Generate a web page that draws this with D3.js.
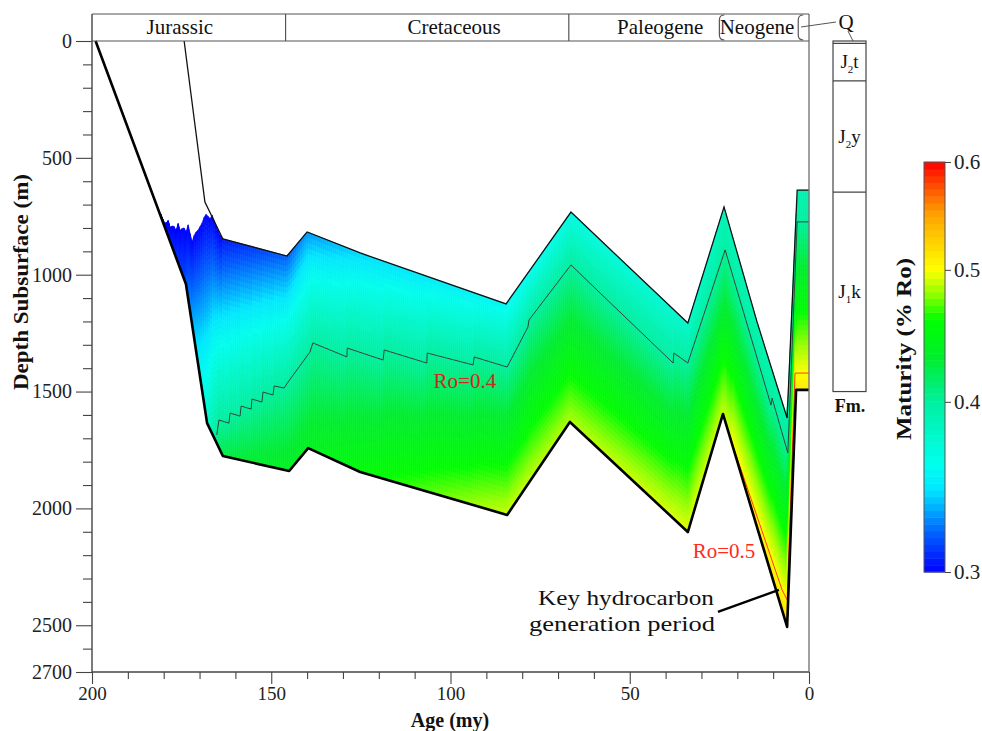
<!DOCTYPE html>
<html><head><meta charset="utf-8">
<script src="https://cdn.jsdelivr.net/npm/d3@7"></script>
<style>
body{margin:0;background:#fff}
svg{display:block}
text{font-family:"Liberation Serif","Times New Roman",serif}
</style>
</head><body>
<svg id="chart" width="982" height="731"></svg>
<script>
// ---------- DATA ----------
// Base of J1k (thick line), age in Ma, depth in m
const baseAges   = [199, 173.8, 167.9, 163.5, 145.0, 139.7, 125.2, 84.2, 66.7, 33.8, 24.0, 14.5, 6.1, 3.6, 0];
const baseDepths = [0, 1040, 1635, 1776, 1840, 1742, 1844, 2028, 1630, 2101, 1596, 2080, 2507, 1493, 1493];
// Top of J1k (thin line)
const topAges   = [174.3, 168.5, 163.5, 145.6, 140.0, 125.2, 84.5, 66.4, 33.8, 23.7, 14.5, 6.1, 3.3, 0];
const topDepths = [0, 689, 847, 920, 817, 907, 1125, 732, 1207, 710, 1202, 1613, 638, 638];
// Ro = 0.3 limit of colouring (jagged edge, upper left)
const ro03Ages   = [181.0, 179.6, 178.8, 178.0, 177.4, 176.6, 176.0, 175.2, 174.6, 173.8, 173.3, 172.1, 171.3, 170.4, 169.3, 168.7, 167.9, 167.3, 166.5, 165.7, 164.3, 163.5];
const ro03Depths = [736, 787, 766, 809, 779, 817, 779, 822, 787, 822, 779, 860, 822, 809, 779, 753, 736, 766, 745, 779, 830, 847];
// Ro = 0.4 iso-line
const ro04Ages   = [165.2, 164.6, 161.8, 161.5, 158.7, 158.4, 155.6, 155.4, 152.6, 152.3, 149.5, 149.2, 146.4, 145.3, 139.2, 138.4, 133.6, 128.9, 128.8, 118.8, 118.5, 106.6, 106.5, 93.7, 93.4, 84.2, 78.4, 78.1, 66.4, 58.3, 37.9, 37.7, 33.8, 23.4, 10.6, 10.3, 5.9, 3.3, 0];
const ro04Depths = [1686, 1622, 1635, 1592, 1605, 1562, 1575, 1532, 1545, 1502, 1515, 1476, 1485, 1459, 1331, 1292, 1322, 1352, 1314, 1365, 1322, 1378, 1335, 1386, 1352, 1395, 1224, 1194, 958, 1078, 1378, 1335, 1378, 894, 1558, 1528, 1763, 774, 774];
// Ro = 0.5 iso-line
const ro05Ages   = [21.2, 7.5, 6.1, 3.9, 0];
const ro05Depths = [1733, 2349, 2392, 1421, 1421];
// Maturity at top and base of the unit through time
const roAges = [181, 174, 168, 163.5, 145, 140, 125, 84, 66.5, 34, 24, 14.5, 6, 3.5, 0];
const roTop  = [0.30, 0.30, 0.30, 0.305, 0.32, 0.33, 0.342, 0.355, 0.365, 0.375, 0.385, 0.39, 0.395, 0.39, 0.39];
const roBase = [0.30, 0.315, 0.375, 0.425, 0.44, 0.44, 0.455, 0.49, 0.485, 0.495, 0.49, 0.51, 0.52, 0.51, 0.51];
// Colour scale
const colorValues = [0.300, 0.320, 0.345, 0.360, 0.400, 0.430, 0.460, 0.480, 0.500, 0.550, 0.600];
const colorHex    = ["#0000ff", "#0060ff", "#00e8ff", "#00ffee", "#00f0a0", "#00ee30", "#00ff00", "#90ff00", "#ffff00", "#ffa000", "#ff0000"];
const roTicks = [0.3, 0.4, 0.5, 0.6];
// Axes
const depthMajor = [0, 500, 1000, 1500, 2000, 2500, 2700];
const depthMinor = [100, 200, 300, 400, 600, 700, 800, 900, 1100, 1200, 1300, 1400, 1600, 1700, 1800, 1900, 2100, 2200, 2300, 2400, 2600];
const ageMajor = [200, 150, 100, 50, 0];
const ageMinor = [190, 180, 170, 160, 140, 130, 120, 110, 90, 80, 70, 60, 40, 30, 20, 10];
// Geologic periods
const periodNames = ["Jurassic", "Cretaceous", "Paleogene", "Neogene"];
const periodBounds = [200, 146, 67, 25, 3, 0];
const periodLabelAges = [175.5, 99, 41.5, 14.5];
// Formations
const fmMain = ["J", "J", "J"];
const fmSub = ["2", "2", "1"];
const fmTail = ["t", "y", "k"];
const fmTops = [10, 171, 647];
const fmBottom = 1500;

// ---------- SCALES ----------
const svg = d3.select("#chart");
const x = d3.scaleLinear().domain([200, 0]).range([92, 809]);
const y = d3.scaleLinear().domain([0, 2700]).range([41, 672]);
const roY = d3.scaleLog().domain([0.3, 0.6]).range([572, 162]);
const color = d3.scaleLinear().domain(colorValues).range(colorHex).clamp(true);

const interp = (A, V) => d3.scaleLinear().domain(A).range(V);
const topF = interp(topAges, topDepths);
const baseF = interp(baseAges, baseDepths);
const iso03F = interp(ro03Ages, ro03Depths);
const ro04F = interp(ro04Ages, ro04Depths);
const ro05F = interp(ro05Ages, ro05Depths);
const roTopF = interp(roAges, roTop);
const roBaseF = interp(roAges, roBase);
const ageSplit = ro03Ages[ro03Ages.length - 1];
const colTop = a => a > ageSplit ? iso03F(a) : topF(a);

function profile(a) {
  const td = colTop(a), bd = baseF(a);
  let rt = a > ageSplit ? 0.3 : roTopF(a);
  let rb = roBaseF(a);
  const knots = [[td, rt]];
  let lastC = null;
  if (a <= ro04Ages[0]) { const d = ro04F(a); if (d > td && d < bd) { knots.push([d, 0.4]); lastC = 0.4; } }
  if (a <= ro05Ages[0]) { const d = ro05F(a); if (d > td && d < bd) { knots.push([d, 0.5]); lastC = 0.5; } }
  if (knots.length > 1) knots[0][1] = Math.min(rt, knots[1][1] - 0.005);
  if (lastC !== null) rb = Math.max(rb, lastC + 0.008);
  knots.push([bd, rb]);
  return d3.scaleLinear().domain(knots.map(k => k[0])).range(knots.map(k => k[1]));
}

// ---------- MATURITY FIELD ----------
const cells = [];
const nF = 40;
const xStart = x(ro03Ages[0]), xEnd = x(0);
for (let xa = xStart; xa < xEnd - 0.01; xa += 2) {
  const xb = Math.min(xa + 2, xEnd);
  const aA = x.invert(xa), aB = x.invert(xb), aM = x.invert((xa + xb) / 2);
  const tA = colTop(aA), bA = baseF(aA), tB = colTop(aB), bB = baseF(aB);
  const tM = colTop(aM), bM = baseF(aM);
  if (bM <= tM) continue;
  const prof = profile(aM);
  for (let j = 0; j < nF; j++) {
    const f0 = j / nF, f1 = (j + 1) / nF, fm = (j + 0.5) / nF;
    const pts = [
      [xa, y(tA + f0 * (bA - tA))], [xb, y(tB + f0 * (bB - tB))],
      [xb, y(tB + f1 * (bB - tB))], [xa, y(tA + f1 * (bA - tA))]
    ];
    cells.push({pts, c: color(prof(tM + fm * (bM - tM)))});
  }
}
const field = svg.append("g");
field.selectAll("path").data(cells).join("path")
  .attr("d", d => "M" + d.pts.map(p => p[0].toFixed(2) + "," + p[1].toFixed(2)).join("L") + "Z")
  .attr("fill", d => d.c).attr("stroke", d => d.c).attr("stroke-width", 0.6);

// ---------- LINES ----------
const line = d3.line().x(d => x(d[0])).y(d => y(d[1]));
const zip = (A, B) => A.map((a, i) => [a, B[i]]);
svg.append("path").attr("d", line(zip(ro04Ages, ro04Depths))).attr("fill", "none").attr("stroke", "#2e4a3c").attr("stroke-width", 1);
svg.append("path").attr("d", line(zip(ro05Ages, ro05Depths))).attr("fill", "none").attr("stroke", "#ff3a10").attr("stroke-width", 1);
svg.append("path").attr("d", line(zip(topAges, topDepths))).attr("fill", "none").attr("stroke", "#111").attr("stroke-width", 1.3);
svg.append("path").attr("d", line(zip(baseAges, baseDepths))).attr("fill", "none").attr("stroke", "#000").attr("stroke-width", 2.6).attr("stroke-linejoin", "round");

// ---------- AXES ----------
const axisColor = "#444";
const yAx = svg.append("g").attr("transform", "translate(92,0)")
  .call(d3.axisLeft(y).tickValues(depthMajor).tickSize(16).tickPadding(4).tickFormat(d3.format("d")));
yAx.select(".domain").remove();
svg.append("g").attr("transform", "translate(92,0)")
  .call(d3.axisLeft(y).tickValues(depthMinor).tickSize(9).tickFormat(""))
  .select(".domain").remove();
yAx.selectAll(".tick text").attr("font-size", 20);
const xAx = svg.append("g").attr("transform", "translate(0,672)")
  .call(d3.axisBottom(x).tickValues(ageMajor).tickSize(12).tickPadding(3).tickFormat(d3.format("d")));
xAx.select(".domain").remove();
svg.append("g").attr("transform", "translate(0,672)")
  .call(d3.axisBottom(x).tickValues(ageMinor).tickSize(7).tickFormat(""))
  .select(".domain").remove();
svg.selectAll(".tick line").attr("stroke", axisColor).attr("stroke-width", 1.1);
svg.selectAll(".tick text").attr("font-family", "Liberation Serif").attr("fill", "#222");
yAx.selectAll(".tick text").attr("font-size", 20);
xAx.selectAll(".tick text").attr("font-size", 19);

// frame
svg.append("line").attr("x1", 92).attr("x2", 92).attr("y1", 14).attr("y2", 672).attr("stroke", axisColor).attr("stroke-width", 1.4);
svg.append("line").attr("x1", 809).attr("x2", 809).attr("y1", 14).attr("y2", 672).attr("stroke", "#777").attr("stroke-width", 1.4);
svg.append("line").attr("x1", 92).attr("x2", 809).attr("y1", 672).attr("y2", 672).attr("stroke", axisColor).attr("stroke-width", 1.4);

// axis titles
svg.append("text").attr("transform", "translate(28,282) rotate(-90)").attr("text-anchor", "middle")
  .attr("font-size", 21).attr("font-weight", "bold").attr("fill", "#111")
  .attr("textLength", 216).attr("lengthAdjust", "spacingAndGlyphs").text("Depth Subsurface (m)");
svg.append("text").attr("x", 450).attr("y", 726.5).attr("text-anchor", "middle")
  .attr("font-size", 20).attr("font-weight", "bold").attr("fill", "#111").text("Age (my)");

// ---------- PERIOD HEADER ----------
const hdr = svg.append("g").attr("stroke", "#555").attr("fill", "none").attr("stroke-width", 1.2);
hdr.append("line").attr("x1", 92).attr("x2", 809).attr("y1", 14).attr("y2", 14);
hdr.append("line").attr("x1", 92).attr("x2", 809).attr("y1", 41).attr("y2", 41);
[periodBounds[1], periodBounds[2]].forEach(a => {
  hdr.append("line").attr("x1", x(a)).attr("x2", x(a)).attr("y1", 14).attr("y2", 41);
});
[periodBounds[3], periodBounds[4]].forEach(a => {
  const bx = x(a);
  hdr.append("path").attr("d", `M${bx + 5},15 Q${bx},15 ${bx},20 L${bx},35 Q${bx},40 ${bx + 5},40`);
});
svg.selectAll(null).data(periodNames).join("text")
  .attr("x", (d, i) => x(periodLabelAges[i])).attr("y", 34).attr("text-anchor", "middle")
  .attr("font-size", 21).attr("fill", "#111").text(d => d);
// Q label
svg.append("line").attr("x1", 801).attr("x2", 836).attr("y1", 27).attr("y2", 22).attr("stroke", "#555").attr("stroke-width", 1);
svg.append("line").attr("x1", 848).attr("x2", 853).attr("y1", 31).attr("y2", 41).attr("stroke", "#555").attr("stroke-width", 1);
svg.append("text").attr("x", 846).attr("y", 29).attr("text-anchor", "middle").attr("font-size", 21).attr("fill", "#111").text("Q");

// ---------- FORMATION COLUMN ----------
const fx0 = 833, fx1 = 866;
const fm = svg.append("g").attr("stroke", "#444").attr("stroke-width", 1.2).attr("fill", "none");
fm.append("rect").attr("x", fx0).attr("y", y(0)).attr("width", fx1 - fx0).attr("height", y(fmBottom) - y(0));
fmTops.forEach(d => fm.append("line").attr("x1", fx0).attr("x2", fx1).attr("y1", y(d)).attr("y2", y(d)));
fmTops.forEach((d, i) => {
  const bot = i < fmTops.length - 1 ? fmTops[i + 1] : fmBottom;
  const cy = (y(d) + y(bot)) / 2 + 6;
  const t = svg.append("text").attr("x", (fx0 + fx1) / 2).attr("y", cy).attr("text-anchor", "middle")
    .attr("font-size", 19).attr("fill", "#111");
  t.append("tspan").text(fmMain[i]);
  t.append("tspan").attr("font-size", 11).attr("dy", 5).text(fmSub[i]);
  t.append("tspan").attr("dy", -5).text(fmTail[i]);
});
svg.append("text").attr("x", 850).attr("y", 412).attr("text-anchor", "middle")
  .attr("font-size", 18).attr("font-weight", "bold").attr("fill", "#111").text("Fm.");

// ---------- COLOUR BAR ----------
const cbx = 924, cbw = 21;
const steps = d3.range(60).map(i => {
  const lo = Math.exp(Math.log(0.3) + i / 60 * Math.log(2));
  const hi = Math.exp(Math.log(0.3) + (i + 1) / 60 * Math.log(2));
  return [lo, hi];
});
svg.append("g").selectAll("rect").data(steps).join("rect")
  .attr("x", cbx).attr("width", cbw)
  .attr("y", d => roY(d[1])).attr("height", d => roY(d[0]) - roY(d[1]) + 0.5)
  .attr("fill", d => color((d[0] + d[1]) / 2));
svg.append("rect").attr("x", cbx).attr("y", roY(0.6)).attr("width", cbw).attr("height", roY(0.3) - roY(0.6))
  .attr("fill", "none").attr("stroke", "#555").attr("stroke-width", 1);
const cAx = svg.append("g").attr("transform", `translate(${cbx + cbw},0)`)
  .call(d3.axisRight(roY).tickValues(roTicks).tickSize(6).tickPadding(3).tickFormat(d3.format(".1f")));
cAx.select(".domain").remove();
cAx.selectAll(".tick line").attr("stroke", "#444");
cAx.selectAll(".tick text").attr("font-family", "Liberation Serif").attr("font-size", 21).attr("fill", "#222");
svg.append("text").attr("transform", "translate(911,349) rotate(-90)").attr("text-anchor", "middle")
  .attr("font-size", 21).attr("font-weight", "bold").attr("fill", "#111")
  .attr("textLength", 182).attr("lengthAdjust", "spacingAndGlyphs").text("Maturity (% Ro)");

// ---------- ANNOTATIONS ----------
svg.append("text").attr("x", x(96)).attr("y", y(1455) + 7).attr("text-anchor", "middle")
  .attr("font-size", 21).attr("fill", "#d0281c").text("Ro=0.4");
svg.append("text").attr("x", x(23.7)).attr("y", y(2182) + 7).attr("text-anchor", "middle")
  .attr("font-size", 21).attr("fill", "#ff2a1a").text("Ro=0.5");
svg.append("line").attr("x1", x(25.4)).attr("y1", y(2443)).attr("x2", x(8.4)).attr("y2", y(2349))
  .attr("stroke", "#000").attr("stroke-width", 2.4);
const keyT = svg.append("text").attr("text-anchor", "end").attr("font-size", 22).attr("fill", "#111");
keyT.append("tspan").attr("x", 714).attr("y", 605).attr("textLength", 176).attr("lengthAdjust", "spacingAndGlyphs").text("Key hydrocarbon");
keyT.append("tspan").attr("x", 715).attr("y", 631).attr("textLength", 186).attr("lengthAdjust", "spacingAndGlyphs").text("generation period");
</script>
</body></html>
